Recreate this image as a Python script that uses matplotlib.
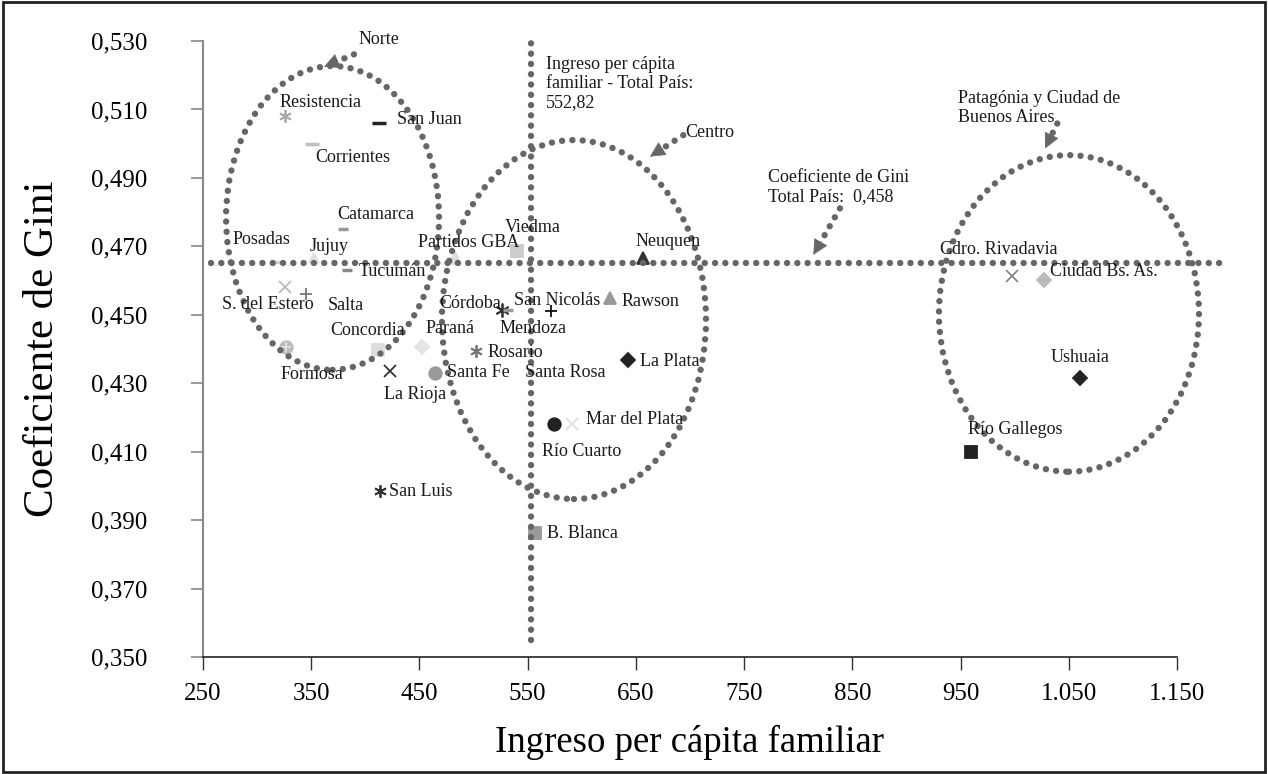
import matplotlib
matplotlib.use("Agg")
import matplotlib.pyplot as plt
from matplotlib.patches import Ellipse, Rectangle
from matplotlib.ticker import FuncFormatter

plt.rcParams['font.family'] = ['Liberation Serif', 'DejaVu Serif']

# --- datos: ingreso per cápita familiar y coeficiente de Gini por aglomerado ---
ciudades = ["Resistencia", "San Juan", "Corrientes", "Catamarca", "Posadas", "Jujuy",
            "Tucumán", "S. del Estero", "Salta", "Formosa", "Concordia", "Paraná",
            "La Rioja", "Santa Fe", "Partidos GBA", "Rosario", "Córdoba", "Mendoza",
            "San Nicolás", "Viedma", "Neuquen", "Rawson", "La Plata", "Santa Rosa",
            "Río Cuarto", "Mar del Plata", "B. Blanca", "San Luis", "Cdro. Rivadavia",
            "Ciudad Bs. As.", "Ushuaia", "Río Gallegos"]
ingreso = [326, 413, 351, 379, 321, 353,
           383, 326, 345, 327, 412, 452,
           423, 464, 483, 502, 526, 532,
           572, 540, 657, 626, 643, 553,
           574, 591, 557, 414, 998,
           1027, 1060, 960]
gini = [0.508, 0.506, 0.500, 0.475, 0.4655, 0.4665,
        0.463, 0.458, 0.456, 0.4405, 0.4397, 0.4405,
        0.4337, 0.4331, 0.4665, 0.4394, 0.4514, 0.4514,
        0.4512, 0.4686, 0.4665, 0.4548, 0.4368, 0.433,
        0.4181, 0.4181, 0.3863, 0.3985, 0.4614,
        0.4602, 0.4314, 0.410]

ticks_x = [250, 350, 450, 550, 650, 750, 850, 950, 1050, 1150]
ticks_y = [0.350, 0.370, 0.390, 0.410, 0.430, 0.450, 0.470, 0.490, 0.510, 0.530]

ingreso_total = 552.82
gini_linea = 0.465

# grupos regionales (centro x, centro y, ancho, alto)
grupos = ["Norte", "Centro", "Patagónia"]
grupo_cx = [369.7, 592.8, 1050.2]
grupo_cy = [0.4783, 0.4486, 0.4504]
grupo_w = [196.8, 244.0, 240.3]
grupo_h = [0.0888, 0.1049, 0.0925]

# --- estilos de marcadores ---
estilo = {
    "Resistencia": ((6, 2, 0), '#aaaaaa', 9),
    "San Juan": ('_', '#222222', 10),
    "Corrientes": ('_', '#c0c0c0', 10),
    "Catamarca": ('_', '#999999', 7),
    "Posadas": ('_', '#d0d0d0', 7),
    "Jujuy": ('^', '#e0e0e0', 7),
    "Tucumán": ('_', '#888888', 7),
    "S. del Estero": ('x', '#bbbbbb', 8),
    "Salta": ('+', '#777777', 9),
    "Formosa": ('o', '#bbbbbb', 9),
    "Concordia": ('s', '#dddddd', 9),
    "Paraná": ('D', '#e4e4e4', 7),
    "La Rioja": ('x', '#333333', 8),
    "Santa Fe": ('o', '#999999', 9),
    "Partidos GBA": ('^', '#dddddd', 8),
    "Rosario": ((6, 2, 0), '#777777', 9),
    "Córdoba": ((6, 2, 0), '#333333', 10),
    "Mendoza": ('_', '#999999', 7),
    "San Nicolás": ('+', '#111111', 9),
    "Viedma": ('s', '#cccccc', 9),
    "Neuquen": ('^', '#333333', 8),
    "Rawson": ('^', '#999999', 9),
    "La Plata": ('D', '#222222', 7),
    "Santa Rosa": ('_', '#cccccc', 6),
    "Río Cuarto": ('o', '#222222', 9),
    "Mar del Plata": ('x', '#dddddd', 9),
    "B. Blanca": ('s', '#999999', 9),
    "San Luis": ((6, 2, 0), '#333333', 9),
    "Cdro. Rivadavia": ('x', '#888888', 9),
    "Ciudad Bs. As.": ('D', '#bbbbbb', 7),
    "Ushuaia": ('D', '#222222', 7),
    "Río Gallegos": ('s', '#222222', 9),
}

# desplazamiento de las etiquetas en pixeles (dx, dy hacia abajo)
desp = {
    "Resistencia": (-6, -14), "San Juan": (18, -4), "Corrientes": (3, 14),
    "Catamarca": (-5, -15), "Posadas": (-47, -22), "Jujuy": (-5, -12),
    "Tucumán": (12, 1), "S. del Estero": (-63, 17), "Salta": (22, 11),
    "Formosa": (-6, 27), "Concordia": (-48, -20), "Paraná": (4, -19),
    "La Rioja": (-6, 24), "Santa Fe": (12, 0), "Partidos GBA": (-37, -16),
    "Rosario": (12, 1), "Córdoba": (-62, -6), "Mendoza": (-9, 19),
    "San Nicolás": (-37, -10), "Viedma": (-12, -24), "Neuquen": (-8, -17),
    "Rawson": (12, 3), "La Plata": (12, 2), "Santa Rosa": (-6, 0),
    "Río Cuarto": (-12, 28), "Mar del Plata": (14, -4), "B. Blanca": (12, 1),
    "San Luis": (9, 0), "Cdro. Rivadavia": (-72, -26), "Ciudad Bs. As.": (6, -8),
    "Ushuaia": (-29, -21), "Río Gallegos": (-3, -22),
}

gris = '#666666'
punteado = (0, (0.01, 1.6))
lw_p = 4.6
fs = 13

fig = plt.figure(figsize=(12.68, 7.74), dpi=100)
ax = fig.add_axes([0.1601, 0.1512, 0.9282 - 0.1601, 0.947 - 0.1512])

for nombre, xv, yv in zip(ciudades, ingreso, gini):
    m, c, s = estilo[nombre]
    lw = 2.5 if m == '_' else 1.3
    ax.plot(xv, yv, linestyle='none', marker=m, color=c, markersize=s,
            markeredgewidth=lw, zorder=3)
    if nombre == "Formosa":
        ax.plot(xv, yv, linestyle='none', marker='+', color='#e6e6e6',
                markersize=7, markeredgewidth=1.2, zorder=3)
    dx, dy = desp[nombre]
    ax.annotate(nombre, (xv, yv), xytext=(dx, -dy), textcoords='offset pixels',
                ha='left', va='center', fontsize=fs, color='#1a1a1a', zorder=6)

# líneas de referencia punteadas
ax.plot([ingreso_total, ingreso_total], [0.355, 0.532], color=gris, lw=lw_p,
        linestyle=punteado, dash_capstyle='round', clip_on=False, zorder=4)
ax.plot([257, 1191], [gini_linea, gini_linea], color=gris, lw=lw_p,
        linestyle=punteado, dash_capstyle='round', clip_on=False, zorder=4)

for cx, cy, w, h in zip(grupo_cx, grupo_cy, grupo_w, grupo_h):
    e = Ellipse((cx, cy), w, h, fill=False, edgecolor=gris, lw=lw_p,
                linestyle=punteado, capstyle='round', clip_on=False, zorder=4)
    ax.add_patch(e)

# flechas (cola, punta) y textos
flechas = [((389.5, 0.5261), (361.8, 0.5225)),
           ((693.8, 0.5025), (663.0, 0.4962)),
           ((838.6, 0.4811), (814.0, 0.4675)),
           ((1039.4, 0.5059), (1028.1, 0.4986))]
for (x0, y0), (x1, y1) in flechas:
    ax.plot([x0, x1 + 0.25 * (x0 - x1)], [y0, y1 + 0.25 * (y0 - y1)], color=gris,
            lw=lw_p, linestyle=punteado, dash_capstyle='round', clip_on=False, zorder=4)
    ax.annotate('', xy=(x1, y1), xytext=(x1 + 0.3 * (x0 - x1), y1 + 0.3 * (y0 - y1)),
                arrowprops=dict(arrowstyle='-|>,head_length=1.0,head_width=0.5',
                                color=gris, lw=0.5, shrinkA=0, shrinkB=0),
                annotation_clip=False, zorder=5)

ax.text(394, 0.5303, "Norte", fontsize=fs, ha='left', va='center', color='#1a1a1a')
ax.text(695.4, 0.5032, "Centro", fontsize=fs, ha='left', va='center', color='#1a1a1a')
ax.text(772.4, 0.4873, "Coeficiente de Gini\nTotal País:  0,458", fontsize=fs,
        ha='left', va='center', linespacing=1.2, color='#1a1a1a')
ax.text(948, 0.5104, "Patagónia y Ciudad de\nBuenos Aires", fontsize=fs,
        ha='left', va='center', linespacing=1.2, color='#1a1a1a')
ax.text(566.9, 0.5176, "Ingreso per cápita\nfamiliar - Total País:\n552,82", fontsize=fs,
        ha='left', va='center', linespacing=1.15, color='#1a1a1a')

ax.set_xlim(250, 1150)
ax.set_ylim(0.350, 0.530)
ax.set_xticks(ticks_x)
ax.set_yticks(ticks_y)
ax.xaxis.set_major_formatter(FuncFormatter(lambda v, p: f"{int(v):,}".replace(",", ".")))
ax.yaxis.set_major_formatter(FuncFormatter(lambda v, p: f"{v:.3f}".replace(".", ",")))
ax.tick_params(axis='y', direction='out', length=9, width=1.2, color='#888888',
               pad=31, labelsize=18)
ax.tick_params(axis='x', direction='out', length=9, width=1.0, color='#333333',
               pad=10, labelsize=18)

for lado in ['top', 'right']:
    ax.spines[lado].set_visible(False)
ax.spines['left'].set_color('#888888')
ax.spines['left'].set_linewidth(1.5)
ax.spines['bottom'].set_color('#222222')
ax.spines['bottom'].set_linewidth(1.2)

ax.set_xlabel("Ingreso per cápita familiar", fontsize=26.5, labelpad=14)
ax.set_ylabel("Coeficiente de Gini", fontsize=31, labelpad=21)

fig.patches.append(Rectangle((0.002, 0.003), 0.996, 0.994, transform=fig.transFigure,
                             fill=False, edgecolor='#222222', lw=2))

fig.savefig("out.png", dpi=100)
